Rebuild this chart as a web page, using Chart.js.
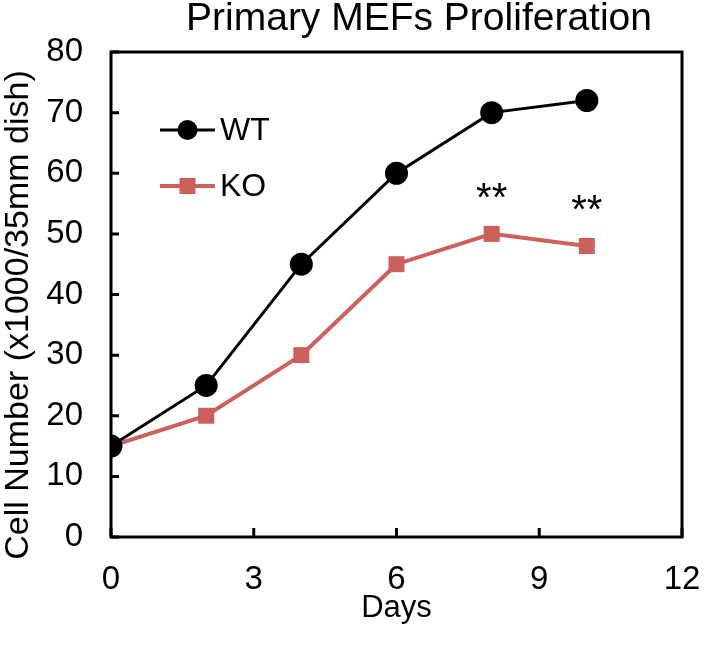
<!DOCTYPE html>
<html>
<head>
<meta charset="utf-8">
<script src="https://cdn.jsdelivr.net/npm/chart.js@4/dist/chart.umd.min.js"></script>
<style>
  html, body { margin: 0; padding: 0; background: #fff; }
  #wrap { width: 705px; height: 657px; }
</style>
</head>
<body>
<div id="wrap"><canvas id="line-chart"></canvas></div>
<script>
let days = [0, 2, 4, 6, 8, 10];
let wtCells = [15, 25, 45, 60, 70, 72];
let koCells = [15, 20, 30, 45, 50, 48];
let sigDays = [8, 10];
let sigLabel = "**";
let xTicks = [0, 3, 6, 9, 12];
let yTicks = [0, 10, 20, 30, 40, 50, 60, 70, 80];

let titleText = "Primary MEFs Proliferation";
let yTitleText = "Cell Number (x1000/35mm dish)";
let koColor = "#cd5f5c";
let fontFam = "'Liberation Sans', Arial, sans-serif";

function toXY(xs, ys) {
	return xs.map(function(x, i) { return {x: x, y: ys[i]}; });
}

// box, inward ticks, titles, legend and the ** marks
let extras = {
	id: 'extras',
	afterDatasetsDraw: function(chart) {
		let ctx = chart.ctx;
		let a = chart.chartArea;
		let xs = chart.scales.x, ys = chart.scales.y;
		ctx.save();
		ctx.strokeStyle = '#000';
		ctx.lineWidth = 3;
		ctx.strokeRect(a.left, a.top, a.right - a.left, a.bottom - a.top);
		ctx.beginPath();
		yTicks.forEach(function(v) {
			let py = ys.getPixelForValue(v);
			ctx.moveTo(a.left, py); ctx.lineTo(a.left + 8, py);
		});
		xTicks.forEach(function(v) {
			let px = xs.getPixelForValue(v);
			ctx.moveTo(px, a.bottom); ctx.lineTo(px, a.bottom - 9);
		});
		ctx.stroke();

		ctx.fillStyle = '#000';
		ctx.textAlign = 'center';
		ctx.textBaseline = 'middle';
		ctx.font = '39px ' + fontFam;
		ctx.fillText(titleText, 419, 19);

		ctx.save();
		ctx.translate(19, 315);
		ctx.rotate(-Math.PI / 2);
		ctx.font = '34px ' + fontFam;
		ctx.fillText(yTitleText, 0, 0);
		ctx.restore();

		// legend
		let rows = [
			{label: 'WT', color: '#000', style: 'circle', y: a.top + 78, w: 3},
			{label: 'KO', color: koColor, style: 'rect', y: a.top + 134, w: 4}
		];
		rows.forEach(function(r) {
			let x0 = a.left + 49, x1 = a.left + 104, xm = (x0 + x1) / 2;
			ctx.strokeStyle = r.color;
			ctx.fillStyle = r.color;
			ctx.lineWidth = r.w;
			ctx.beginPath(); ctx.moveTo(x0, r.y); ctx.lineTo(x1, r.y); ctx.stroke();
			if (r.style === 'circle') {
				ctx.beginPath(); ctx.arc(xm, r.y, 10, 0, Math.PI * 2); ctx.fill();
			} else {
				ctx.fillRect(xm - 8, r.y - 8, 16, 16);
			}
			ctx.fillStyle = '#000';
			ctx.font = '32px ' + fontFam;
			ctx.textAlign = 'left';
			ctx.fillText(r.label, x1 + 5, r.y + 1);
		});

		// significance
		ctx.font = '40px ' + fontFam;
		ctx.textAlign = 'center';
		ctx.fillStyle = '#000';
		sigDays.forEach(function(d) {
			let i = days.indexOf(d);
			let px = xs.getPixelForValue(d);
			let py = ys.getPixelForValue(koCells[i]);
			ctx.fillText(sigLabel, px, py - 34);
		});
		ctx.restore();
	}
};

function init() {
	new Chart(document.getElementById("line-chart"), {
		type: 'line',
		data: {
			datasets: [{
				label: 'WT',
				data: toXY(days, wtCells),
				borderColor: '#000',
				backgroundColor: '#000',
				borderWidth: 3,
				pointStyle: 'circle',
				pointRadius: 10,
				pointHoverRadius: 10,
				fill: false,
				order: 1
			}, {
				label: 'KO',
				data: toXY(days, koCells),
				borderColor: koColor,
				backgroundColor: koColor,
				borderWidth: 4,
				pointStyle: 'rect',
				pointRadius: 11.3,
				pointHoverRadius: 11.3,
				pointBorderWidth: 0,
				fill: false,
				order: 2
			}]
		},
		options: {
			responsive: true,
			maintainAspectRatio: false,
			animation: false,
			layout: { padding: { left: 0, right: 23, top: 52, bottom: 0 } },
			plugins: {
				legend: { display: false },
				tooltip: { enabled: false },
				title: { display: false }
			},
			scales: {
				x: {
					type: 'linear',
					min: 0, max: 12,
					afterBuildTicks: function(s) { s.ticks = xTicks.map(function(v) { return {value: v}; }); },
					afterFit: function(s) { s.height = 120; s.paddingLeft = 0; s.paddingRight = 0; },
					grid: { display: false, drawTicks: false },
					border: { display: false },
					ticks: { color: '#000', padding: 23, font: { family: fontFam, size: 33 }, maxRotation: 0 },
					title: {
						display: true, text: 'Days', color: '#000',
						font: { family: fontFam, size: 31 },
						padding: { top: 0, bottom: 30 }
					}
				},
				y: {
					min: 0, max: 80,
					afterBuildTicks: function(s) { s.ticks = yTicks.map(function(v) { return {value: v}; }); },
					afterFit: function(s) { s.width = 111; s.paddingTop = 0; s.paddingBottom = 0; },
					grid: { display: false, drawTicks: false },
					border: { display: false },
					ticks: { color: '#000', padding: 28, font: { family: fontFam, size: 33 } },
					title: { display: false }
				}
			}
		},
		plugins: [extras]
	});
}

init();
</script>
</body>
</html>
